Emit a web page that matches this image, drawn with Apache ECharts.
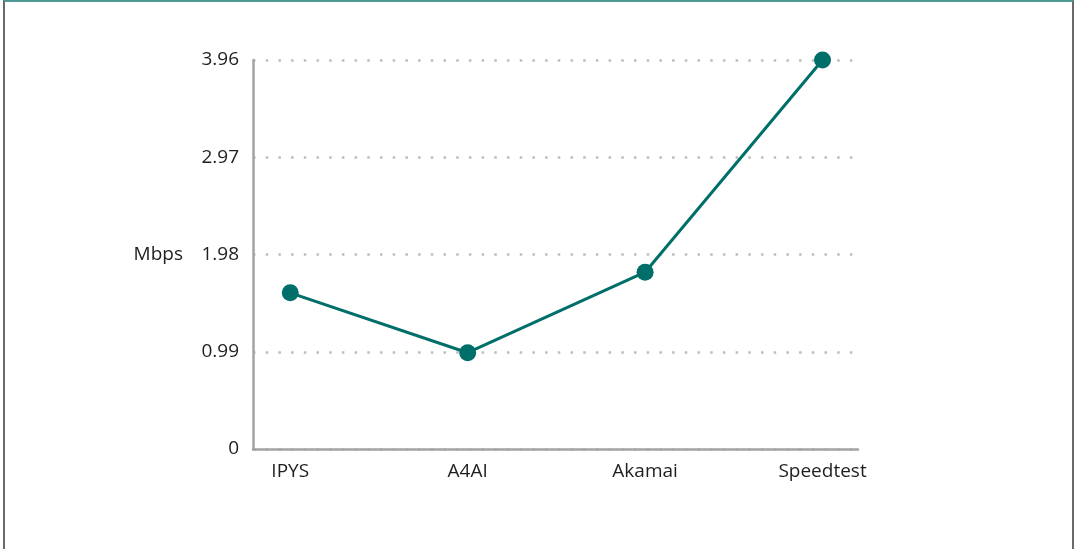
<!DOCTYPE html>
<html>
<head>
<meta charset="utf-8">
<script src="https://cdn.jsdelivr.net/npm/echarts@6/dist/echarts.min.js"></script>
<style>
  html, body { margin: 0; padding: 0; background: #fff; }
  #frame {
    position: absolute; left: 3px; top: 0; width: 1071px; height: 549px;
    border-top: 2px solid #4f9994; border-left: 2px solid #6a6a6a; border-right: 2px solid #6a6a6a;
    box-sizing: border-box;
  }
  #chart { position: absolute; left: 0; top: 0; width: 1078px; height: 549px; }
</style>
</head>
<body>
<div id="frame"></div>
<div id="chart"></div>
<script>
// data
var categories = ['IPYS', 'A4AI', 'Akamai', 'Speedtest'];
var speeds = [1.59, 0.98, 1.80, 3.96];
var yTicks = [0, 0.99, 1.98, 2.97, 3.96];

var chart = echarts.init(document.getElementById('chart'));
var fontFam = '"Open Sans", sans-serif';

var option = {
    animation: false,
    grid: { left: 253, top: 60, width: 605, height: 389 },
    xAxis: {
        type: 'value',
        min: -0.21,
        max: 3.2,
        axisLine: { onZero: false, lineStyle: { color: '#a3a3a3', width: 2.5 } },
        axisTick: { show: false },
        splitLine: { show: false },
        axisLabel: {
            customValues: [0, 1, 2, 3],
            formatter: function (v) { return categories[Math.round(v)]; },
            color: '#1e1e1e', fontSize: 19, fontFamily: fontFam, margin: 13
        }
    },
    yAxis: {
        type: 'value',
        min: 0,
        max: 3.96,
        interval: 0.99,
        name: 'Mbps',
        nameLocation: 'middle',
        nameRotate: 0,
        nameGap: 70,
        nameTextStyle: { color: '#1e1e1e', fontSize: 19, fontFamily: fontFam, align: 'right', padding: [4, 0, 0, 0] },
        axisLine: { show: true, onZero: false, lineStyle: { color: '#a3a3a3', width: 2.5 } },
        axisTick: { show: false },
        axisLabel: {
            color: '#1e1e1e', fontSize: 19, fontFamily: fontFam, margin: 14, padding: [4, 0, 0, 0],
            formatter: function (v) {
                var t = yTicks.find(function (k) { return Math.abs(k - v) < 1e-6; });
                return t === 0 ? '0' : t.toFixed(2);
            }
        },
        splitLine: { lineStyle: { color: '#bdbdbd', width: 2.5, type: [2.5, 10.2] } }
    },
    series: [{
        type: 'line',
        data: speeds.map(function (v, i) { return [i, v]; }),
        symbol: 'circle',
        symbolSize: 17,
        lineStyle: { color: '#006e69', width: 3 },
        itemStyle: { color: '#006e69' }
    }]
};
chart.setOption(option);
</script>
</body>
</html>
